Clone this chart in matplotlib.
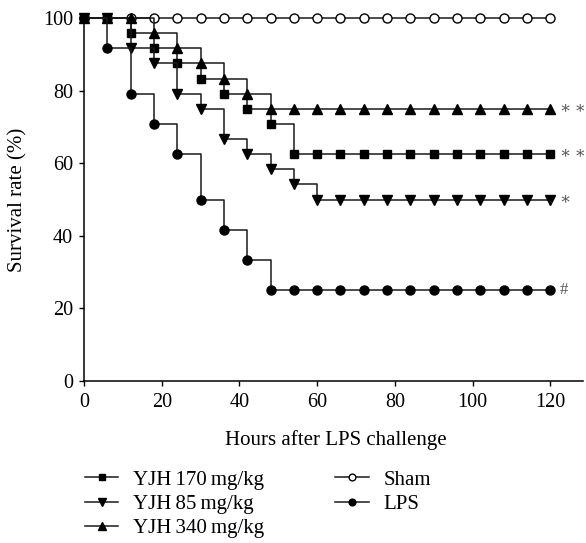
import matplotlib
matplotlib.use("Agg")
import matplotlib.pyplot as plt

plt.rcParams['font.family'] = ['Liberation Serif', 'DejaVu Serif']

hours = [0, 6, 12, 18, 24, 30, 36, 42, 48, 54, 60, 66, 72, 78, 84, 90, 96, 102, 108, 114, 120]
sham = [100] * 21
lps = [100, 91.7, 79.2, 70.8, 62.5, 50, 41.7, 33.3, 25, 25, 25, 25, 25, 25, 25, 25, 25, 25, 25, 25, 25]
yjh170 = [100, 100, 95.8, 91.7, 87.5, 83.3, 79.2, 75, 70.8, 62.5, 62.5, 62.5, 62.5, 62.5, 62.5,
          62.5, 62.5, 62.5, 62.5, 62.5, 62.5]
yjh85 = [100, 100, 91.7, 87.5, 79.2, 75, 66.7, 62.5, 58.3, 54.2, 50, 50, 50, 50, 50, 50, 50, 50,
         50, 50, 50]
yjh340 = [100, 100, 100, 95.8, 91.7, 87.5, 83.3, 79.2, 75, 75, 75, 75, 75, 75, 75, 75, 75, 75,
          75, 75, 75]
sig_labels = ['∗\u2009∗', '∗\u2009∗', '∗', '#']
sig_values = [75, 62.5, 50, 25]
xticks = [0, 20, 40, 60, 80, 100, 120]
yticks = [0, 20, 40, 60, 80, 100]

fig = plt.figure(figsize=(5.86, 5.43), dpi=100)
ax = fig.add_axes([0.1433, 0.2983, 0.8515, 0.6685])

lc = '#1a1a1a'
lw = 1.1
common = dict(drawstyle='steps-post', color=lc, lw=lw, clip_on=False, markeredgecolor='black',
              markeredgewidth=1.0)
h_sham, = ax.plot(hours, sham, marker='o', ms=6.5, markerfacecolor='white', label='Sham', zorder=2, **common)
h_170, = ax.plot(hours, yjh170, marker='s', ms=6, markerfacecolor='black', label='YJH\u2009170\u2009mg/kg', zorder=3, **common)
h_85, = ax.plot(hours, yjh85, marker='v', ms=7, markerfacecolor='black', label='YJH\u200985\u2009mg/kg', zorder=3, **common)
h_340, = ax.plot(hours, yjh340, marker='^', ms=7, markerfacecolor='black', label='YJH\u2009340\u2009mg/kg', zorder=3, **common)
h_lps, = ax.plot(hours, lps, marker='o', ms=6.5, markerfacecolor='black', label='LPS', zorder=4, **common)

for lab, v in zip(sig_labels, sig_values):
    ax.text(122.4, v, lab, fontsize=12, color='#555555', va='center', ha='left')

ax.set_xlim(0, 128.4)
ax.set_ylim(0, 100)
ax.set_xticks(xticks)
ax.set_yticks(yticks)
for s in ['top', 'right']:
    ax.spines[s].set_visible(False)
for s in ['left', 'bottom']:
    ax.spines[s].set_linewidth(1.1)
ax.tick_params(axis='both', direction='out', length=3.8, width=1.0, labelsize=14.5)
ax.tick_params(axis='x', pad=5.0)
ax.tick_params(axis='y', pad=4.0)
ax.set_xlabel('Hours after LPS challenge', fontsize=15)
ax.set_ylabel('Survival rate (%)', fontsize=15)
ax.xaxis.set_label_coords(0.505, -0.1625)
ax.xaxis.label.set_va('center')
ax.yaxis.set_label_coords(-0.132, 0.5)
ax.yaxis.label.set_va('center')

leg = fig.legend(handles=[h_170, h_85, h_340, h_sham, h_lps], loc='upper left',
                 bbox_to_anchor=(0.145, 0.1344), ncol=2, frameon=False, fontsize=15,
                 handlelength=1.6, handletextpad=0.72, columnspacing=3.4, labelspacing=0.23,
                 markerscale=0.75, borderaxespad=0, borderpad=0)

fig.savefig('out.png', dpi=100)
